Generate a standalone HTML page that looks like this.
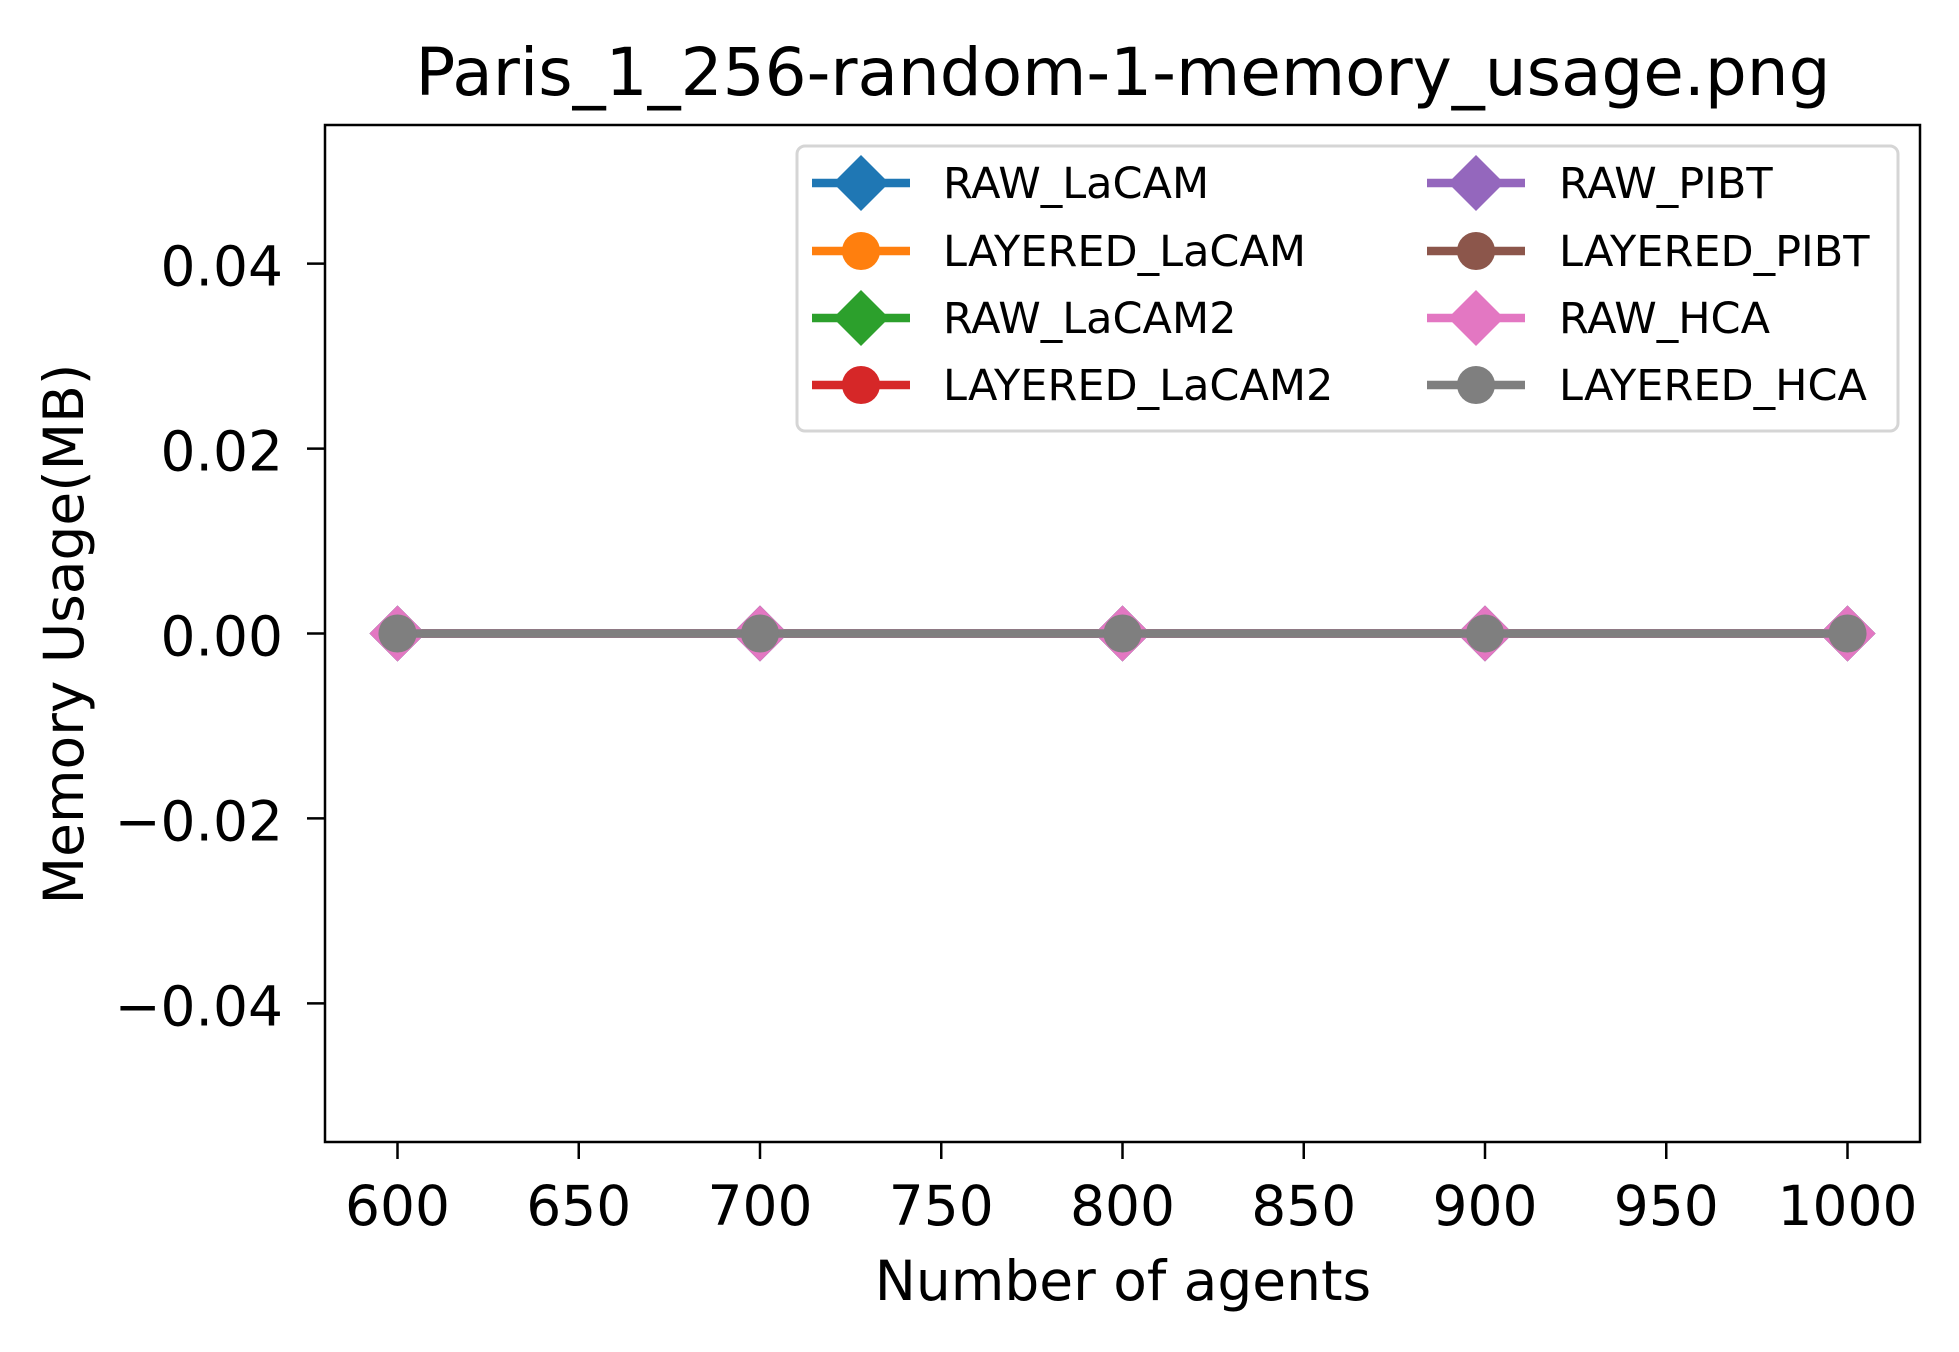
<!DOCTYPE html>
<html><head><meta charset="utf-8"><style>
html,body{margin:0;padding:0;background:#fff;}
svg{display:block;font-family:"DejaVu Sans","Liberation Sans",sans-serif;}
</style></head><body>
<svg id="chart" width="1959" height="1352" viewBox="0 0 1959 1352" xmlns="http://www.w3.org/2000/svg">
<rect width="1959" height="1352" fill="#fff"/>
<text x="1123" y="95" font-size="66" text-anchor="middle">Paris_1_256-random-1-memory_usage.png</text>
<g id="plot"></g>
<rect x="325" y="125" width="1595" height="1017" fill="none" stroke="#000" stroke-width="2.5"/>
<text x="1123" y="1300" font-size="55" text-anchor="middle">Number of agents</text>
<text transform="translate(83,634) rotate(-90)" font-size="55" text-anchor="middle">Memory Usage(MB)</text>
<g id="legend"></g>
</svg>
<script>
const categories = [600, 700, 800, 900, 1000];
const seriesNames = ["RAW_LaCAM","LAYERED_LaCAM","RAW_LaCAM2","LAYERED_LaCAM2","RAW_PIBT","LAYERED_PIBT","RAW_HCA","LAYERED_HCA"];
const seriesColors = ["#1f77b4","#ff7f0e","#2ca02c","#d62728","#9467bd","#8c564b","#e377c2","#7f7f7f"];
const seriesMarkers = ["D","o","D","o","D","o","D","o"];
const rawLaCAM = [0,0,0,0,0];
const layeredLaCAM = [0,0,0,0,0];
const rawLaCAM2 = [0,0,0,0,0];
const layeredLaCAM2 = [0,0,0,0,0];
const rawPIBT = [0,0,0,0,0];
const layeredPIBT = [0,0,0,0,0];
const rawHCA = [0,0,0,0,0];
const layeredHCA = [0,0,0,0,0];
const seriesValues = [rawLaCAM,layeredLaCAM,rawLaCAM2,layeredLaCAM2,rawPIBT,layeredPIBT,rawHCA,layeredHCA];
const xTicks = [600,650,700,750,800,850,900,950,1000];
const yTicks = [-0.04,-0.02,0,0.02,0.04];
const yTickLabels = ["\u22120.04","\u22120.02","0.00","0.02","0.04"];

const NS="http://www.w3.org/2000/svg";
const L=325,R=1920,T=125,B=1142;
const xMin=580,xMax=1020,yMin=-0.055,yMax=0.055;
function xScale(v){return L+(v-xMin)/(xMax-xMin)*(R-L);}
function yScale(v){return B-(v-yMin)/(yMax-yMin)*(B-T);}
function mk(tag,attrs,parent){const e=document.createElementNS(NS,tag);for(const k in attrs)e.setAttribute(k,attrs[k]);parent.appendChild(e);return e;}
const svg=document.getElementById('chart');
const plot=document.getElementById('plot');
const legend=document.getElementById('legend');

xTicks.forEach(v=>{
  const x=xScale(v);
  const t=mk('line',{x1:x,x2:x,y1:B,y2:B+17,stroke:'#000','stroke-width':2.5},svg);
  
  
  const l=mk('text',{x:x,y:1225,'font-size':55,'text-anchor':'middle'},svg);
  l.textContent=String(v);
  
  
});
yTicks.forEach((v,i)=>{
  const y=yScale(v);
  const t=mk('line',{x1:L-18,x2:L,y1:y,y2:y,stroke:'#000','stroke-width':2.5},svg);
  
  
  const l=mk('text',{x:283,y:y+22,'font-size':55,'text-anchor':'end'},svg);
  l.textContent=yTickLabels[i];
  
  
});

function marker(parent,type,cx,cy,color,size){
  let m;
  if(type==='D'){
    const h=size;
    m=mk('polygon',{points:`${cx},${cy-h} ${cx+h},${cy} ${cx},${cy+h} ${cx-h},${cy}`,fill:color},parent);
  } else {
    m=mk('circle',{cx:cx,cy:cy,r:size*0.68,fill:color},parent);
  }
  return m;
}

seriesValues.forEach((vals,s)=>{
  const g=mk('g',{},plot);
  
  
  const pts=vals.map((v,i)=>xScale(categories[i])+','+yScale(v)).join(' ');
  const pl=mk('polyline',{points:pts,fill:'none',stroke:seriesColors[s],'stroke-width':8.5},g);
  
  
  vals.forEach((v,i)=>{
    const m=marker(g,seriesMarkers[s],xScale(categories[i]),yScale(v),seriesColors[s],28);
    
    
  });
});

const lb=mk('rect',{x:797,y:146,width:1101,height:285,rx:8,fill:'#fff','fill-opacity':0.8,stroke:'#d5d5d5','stroke-width':3},legend);


const rowsY=[183,251,318,385];
seriesNames.forEach((n,s)=>{
  const col=Math.floor(s/4),row=s%4;
  const mx=col===0?861:1476, tx=col===0?943:1559, y=rowsY[row];
  const g=mk('g',{},legend);
  
  
  mk('line',{x1:mx-49,x2:mx+49,y1:y,y2:y,stroke:seriesColors[s],'stroke-width':8.5},g);
  marker(g,seriesMarkers[s],mx,y,seriesColors[s],28);
  const t=mk('text',{x:tx,y:y+15,'font-size':43},g);
  t.textContent=n;
});
</script>
</body></html>
